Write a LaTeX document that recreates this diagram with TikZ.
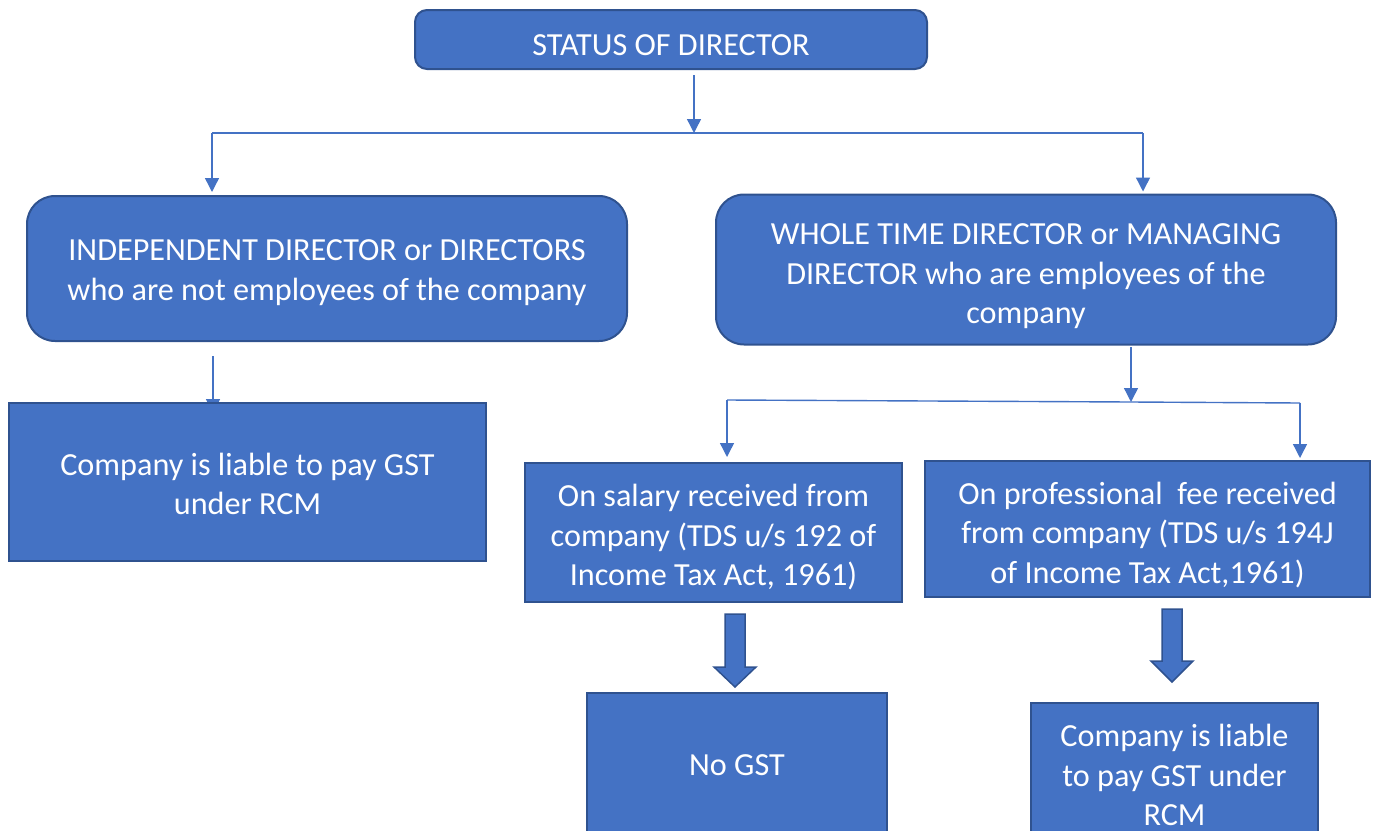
\documentclass[tikz,border=0pt]{standalone}
\usepackage{fontspec}
\setmainfont{Carlito}
\usetikzlibrary{arrows.meta,backgrounds,calc}
\definecolor{boxfill}{HTML}{4472C4}
\definecolor{boxline}{HTML}{2F528F}
\begin{document}
\begin{tikzpicture}[x=1pt,y=-1pt,
  box/.style={draw=boxline, fill=boxfill, line width=2pt, inner sep=0pt,
    anchor=center},
  roundbox/.style={box, rounded corners=#1},
  txt/.style={text=white, align=center, inner sep=0pt,
    font=\fontsize{32.2}{39.5}\selectfont},
  conn/.style={draw=boxfill, line width=1.4pt},
  tip/.style={-{Triangle[width=14pt,length=14pt]}},
  blockarrow/.style={draw=boxline, fill=boxfill, line width=1.5pt, line join=miter}]
\useasboundingbox (0,0) rectangle (1378,830);
\clip (0,0) rectangle (1378,830);

% boxes, each with its text set a little below the centre
\node[roundbox=12, minimum width=512, minimum height=59,
  label={[txt,yshift=-6pt]center:STATUS OF DIRECTOR}] (top) at (671,39.5) {};
\node[roundbox=28, minimum width=600, minimum height=145,
  label={[txt,yshift=-4pt]center:INDEPENDENT DIRECTOR or DIRECTORS\\who are not employees of the company}]
  (indep) at (327,268.5) {};
\node[roundbox=28, minimum width=620, minimum height=150,
  label={[txt,yshift=-7pt]center:WHOLE TIME DIRECTOR or MANAGING\\DIRECTOR who are employees of the\\company}]
  (whole) at (1026,269.5) {};
\node[box, minimum width=477, minimum height=158,
  label={[txt,yshift=-2pt]center:Company is liable to pay GST\\under RCM}]
  (liable1) at (247.5,482) {};
\node[box, minimum width=377, minimum height=139,
  label={[txt,yshift=-5pt]center:On salary received from\\company (TDS u/s 192 of\\Income Tax Act, 1961)}]
  (salary) at (713.5,532.5) {};
\node[box, minimum width=445, minimum height=136,
  label={[txt,yshift=-6pt]center:On professional\ \ fee received\\from company (TDS u/s 194J\\of Income Tax Act,1961)}]
  (prof) at (1147.5,529) {};
\node[box, minimum width=300, minimum height=142,
  label={[txt,yshift=-1pt]center:No GST}]
  (nogst) at (737,764) {};
\node[box, minimum width=287, minimum height=144,
  label={[txt]center:Company is liable\\to pay GST under\\RCM}]
  (liable2) at (1174.5,775) {};

% junction points of the connectors
\coordinate (t1) at (694,75);
\coordinate (bm) at (694,133);
\coordinate (bl) at (212,133);
\coordinate (br) at (1143,133);
\coordinate (l1) at (213,356);
\coordinate (w1) at (1131,347);
\coordinate (sl) at (727,400);
\coordinate (sm) at (1131,402);
\coordinate (sr) at (1300,403);

% first level
\draw[conn,tip] (t1) -- (bm);
\draw[conn] (bl) -- (br);
\draw[conn,tip,shorten >=3pt] (bl) -- (bl |- indep.north);
\draw[conn,tip,shorten >=2pt] (br) -- (br |- whole.north);

% independent director branch (arrow tip hidden behind the box)
\begin{scope}[on background layer]
  \draw[conn,tip] (l1) -- ($(l1 |- liable1.north)+(0,11)$);
\end{scope}

% whole time director branch
\draw[conn,tip] (w1) -- (sm);
\draw[conn] (sl) -- (sm) -- (sr);
\draw[conn,tip,shorten >=5pt] (sl) -- (sl |- salary.north);
\draw[conn,tip,shorten >=2pt] (sr) -- (sr |- prof.north);

% block arrows
\draw[blockarrow] (725,614) -- (745,614) -- (745,667) -- (756,667) -- (735,687)
  -- (714,667) -- (725,667) -- cycle;
\draw[blockarrow] (1162,609) -- (1182,609) -- (1182,661) -- (1193,661) -- (1172,682)
  -- (1151,661) -- (1162,661) -- cycle;
\end{tikzpicture}
\end{document}
